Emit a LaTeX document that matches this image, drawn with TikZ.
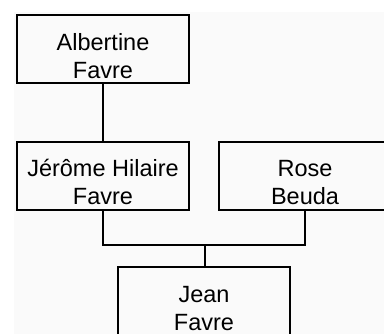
\documentclass[tikz,border=0pt]{standalone}
\usepackage{fontspec}
\setmainfont{Liberation Sans}
\definecolor{panel}{RGB}{250,250,250}
\begin{document}
\begin{tikzpicture}[x=1pt,y=-1pt,
  person/.style={draw=black, line width=2.3pt, minimum width=172pt, minimum height=68pt, inner sep=0pt, fill=panel},
  personname/.style={align=center, font=\fontsize{23.5}{27.6}\selectfont, inner sep=0pt, anchor=base},
  link/.style={draw=black, line width=2.3pt}]
\useasboundingbox (0,0) rectangle (384,334);
\fill[panel] (14,12) rectangle (384,334);

% family boxes
\node[person] (alb) at (103,49) {};
\node[person] (jer) at (103,176) {};
\node[person] (rose) at (305,176) {};
\node[person] (jean) at (204,301) {};

% names (base anchor sits on the last line)
\node[personname] (albname) at ([yshift=-29.5pt]alb.center) {Albertine\\Favre};
\node[personname] (jername) at ([yshift=-28.5pt]jer.center) {Jérôme Hilaire\\Favre};
\node[personname] (rosename) at ([yshift=-28.5pt]rose.center) {Rose\\Beuda};
\node[personname] (jeanname) at ([yshift=-29.5pt]jean.center) {Jean\\Favre};

% descent lines
\coordinate (mid) at (205,245);
\draw[link] (alb.south) -- (jer.north);
\draw[link] (jer.south) |- (mid) -| (rose.south);
\draw[link] (mid) -- (mid |- jean.north);
\end{tikzpicture}
\end{document}
